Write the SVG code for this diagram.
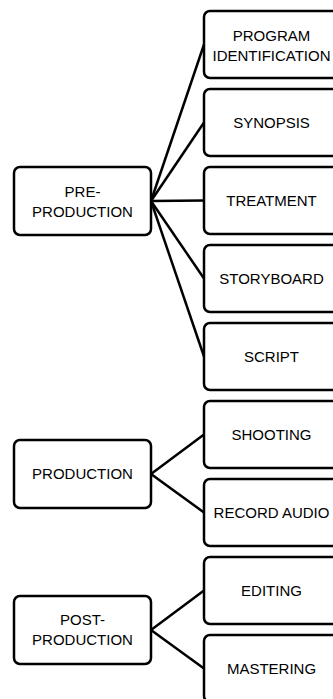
<svg xmlns="http://www.w3.org/2000/svg" width="333" height="699" viewBox="0 0 333 699">
<style>
.box{fill:#fff;stroke:#000;stroke-width:2.5}
.t{font-family:"Liberation Sans",Arial,sans-serif;font-size:15px;fill:#000;text-anchor:middle}
.c{stroke:#000;stroke-width:2.5;fill:none}
</style>
<rect width="333" height="699" fill="#fff"/>
<g id="connectors">
<line class="c" x1="151" y1="201" x2="204" y2="44.5"/>
<line class="c" x1="151" y1="201" x2="204" y2="122.5"/>
<line class="c" x1="151" y1="201" x2="204" y2="200.5"/>
<line class="c" x1="151" y1="201" x2="204" y2="278.5"/>
<line class="c" x1="151" y1="201" x2="204" y2="356.5"/>
<line class="c" x1="151" y1="474" x2="204" y2="434.5"/>
<line class="c" x1="151" y1="474" x2="204" y2="512.5"/>
<line class="c" x1="151" y1="630" x2="204" y2="590.5"/>
<line class="c" x1="151" y1="630" x2="204" y2="668.5"/>
</g>
<g id="pre-production"><rect class="box" x="14" y="167" width="137" height="68" rx="6"/><text class="t" x="82.5" y="197">PRE-</text><text class="t" x="82.5" y="217">PRODUCTION</text></g>
<g id="production"><rect class="box" x="14" y="440" width="137" height="68" rx="6"/><text class="t" x="82.5" y="479">PRODUCTION</text></g>
<g id="post-production"><rect class="box" x="14" y="596" width="137" height="68" rx="6"/><text class="t" x="82.5" y="625">POST-</text><text class="t" x="82.5" y="645">PRODUCTION</text></g>
<g id="program-identification"><rect class="box" x="204" y="11" width="137" height="67" rx="6"/><text class="t" x="271.5" y="41">PROGRAM</text><text class="t" x="271.5" y="61">IDENTIFICATION</text></g>
<g id="synopsis"><rect class="box" x="204" y="89" width="137" height="67" rx="6"/><text class="t" x="271.5" y="128">SYNOPSIS</text></g>
<g id="treatment"><rect class="box" x="204" y="167" width="137" height="67" rx="6"/><text class="t" x="271.5" y="206">TREATMENT</text></g>
<g id="storyboard"><rect class="box" x="204" y="245" width="137" height="67" rx="6"/><text class="t" x="271.5" y="284">STORYBOARD</text></g>
<g id="script"><rect class="box" x="204" y="323" width="137" height="67" rx="6"/><text class="t" x="271.5" y="362">SCRIPT</text></g>
<g id="shooting"><rect class="box" x="204" y="401" width="137" height="67" rx="6"/><text class="t" x="271.5" y="440">SHOOTING</text></g>
<g id="record-audio"><rect class="box" x="204" y="479" width="137" height="67" rx="6"/><text class="t" x="271.5" y="518">RECORD AUDIO</text></g>
<g id="editing"><rect class="box" x="204" y="557" width="137" height="67" rx="6"/><text class="t" x="271.5" y="596">EDITING</text></g>
<g id="mastering"><rect class="box" x="204" y="635" width="137" height="67" rx="6"/><text class="t" x="271.5" y="674">MASTERING</text></g>
</svg>
